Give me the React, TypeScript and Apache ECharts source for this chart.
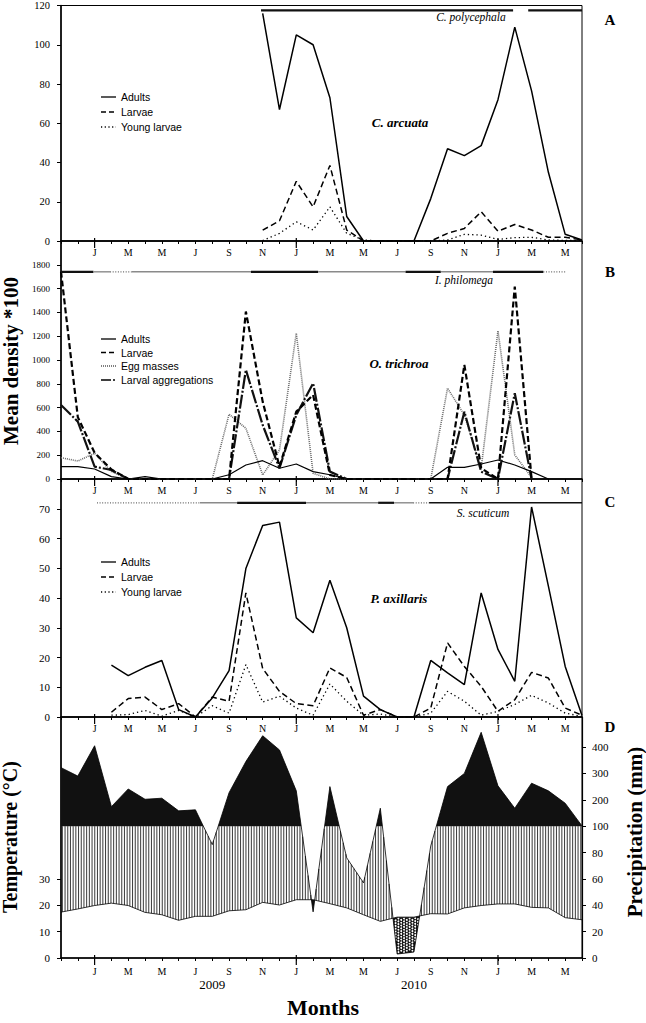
import React, { useEffect, useRef } from 'react';
import * as echarts from 'echarts';

const SERIF = '"Liberation Serif", "Times New Roman", serif';
const SANS = '"Liberation Sans", Arial, sans-serif';

// Month index 0 = November 2008 ... 31 = June 2011
const monthInitials = ['J', 'F', 'M', 'A', 'M', 'J', 'J', 'A', 'S', 'O', 'N', 'D'];
const startMonth = 10;
const monthCount = 31;
const januaries = [2, 14, 26];
const yearLabels = ['2009', '2010'];
const yearLabelAt = [9, 21];

// Panel A – C. arcuata
const aAdults = [null, null, null, null, null, null, null, null, null, null, null, null, 116, 67, 105, 100, 73, 12.5, 0, 0, 0, 0, 21.6, 47, 43.5, 48.6, 72, 109, 76.5, 35, 3.4, 0.5];
const aLarvae = [null, null, null, null, null, null, null, null, null, null, null, null, 5.5, 10.3, 30.4, 17.4, 38.5, 5.6, 0, 0, 0, 0, 0, 3.9, 6.4, 14.9, 5, 8.4, 5.6, 1.9, 1.9, 0.5];
const aYoung = [null, null, null, null, null, null, null, null, null, null, null, null, 0.2, 3.9, 9.8, 5.6, 17.4, 3.9, 0.5, 0, 0, 0, 0, 0.5, 3.4, 3, 0.8, 1.7, 1.9, 0.5, 0.3, 0.3];

// Panel B – O. trichroa
const bAdults = [104, 104, 84, 20, 0, 20, 0, 0, 0, 0, 36, 118, 154, 90, 126, 62, 36, 0, 0, 0, 0, 0, 0, 98, 98, 126, 160, 118, 62, 0, null, null];
const bLarvae = [1743, 520, 220, 80, 0, 0, 0, 0, 0, 0, 0, 1407, 650, 104, 566, 706, 34, 0, 0, 0, 0, 0, 0, 0, 959, 90, 0, 1617, 0, null, null, null];
const bEggMasses = [179, 151, 216, 62, 0, 0, 0, 0, 0, 0, 544, 426, 34, 244, 1225, 48, 0, 0, 0, 0, 0, 0, 0, 763, 538, 90, 1245, 202, 14, null, null, null];
const bAggregations = [622, 482, 104, 76, 0, 0, 0, 0, 0, 0, 0, 917, 454, 90, 538, 805, 62, 0, 0, 0, 0, 0, 0, 0, 566, 62, 0, 721, 0, null, null, null];

// Panel C – P. axillaris
const cAdults = [null, null, null, 17.4, 13.9, 16.7, 19, 2.5, 0, 6.4, 15.6, 49.9, 64.4, 65.5, 33.3, 28.3, 46, 30, 7, 2.5, 0, 0, 19, 14.8, 10.9, 41.7, 22.7, 12, 70.6, 44, 17, 0.5];
const cLarvae = [null, null, null, 1.6, 6.2, 6.7, 2.5, 4.5, 0, 6.7, 5.3, 41.7, 16.3, 8.6, 4.5, 3.8, 16.5, 13.3, 0.6, 2.5, 0, 0, 3, 24.9, 17, 10.3, 1.9, 5.8, 15, 13.1, 3, 0.6];
const cYoung = [null, null, null, 0.6, 0.8, 2.2, 0.3, 2.2, 0, 3.8, 1.3, 17.6, 5, 7, 3, 0.6, 11.1, 5.3, 0.6, 1, 0, 0, 1.3, 8.6, 5.3, 0.6, 1.9, 4.2, 7.3, 4.7, 1.3, 0.2];

// Panel D – climate
const temperature = [17.4, 18.6, 19.9, 20.8, 19.9, 17.3, 16.4, 14.3, 15.8, 15.8, 17.9, 18.3, 21.1, 20.1, 22.1, 22.1, 20.6, 19.0, 16.4, 13.9, 15.5, 15.5, 16.8, 16.7, 19.0, 19.9, 20.5, 20.5, 19.2, 19.0, 15.3, 14.5];
const precipitation = [322, 290, 405, 174, 241, 202, 206, 158, 162, 86, 227, 345, 443, 389, 234, 35, 250, 76, 57, 168, 3, 4.5, 85, 250, 300, 456, 253, 168, 263, 234, 187, 101];

// Host presence bars: [from, to, style]
const hostA = [[11.9, 26.9, 0], [27.8, 31, 0]];
const hostB = [[0, 1.93, 0], [1.93, 2.92, 1], [2.92, 4.2, 2], [4.2, 11.3, 1], [11.3, 15.3, 0], [15.3, 20.5, 1], [20.5, 22.6, 0], [22.6, 25.7, 1], [25.7, 28.7, 0], [28.7, 30.0, 2]];
const hostC = [[2.14, 8.27, 2], [8.27, 10.48, 1], [10.48, 14.58, 0], [14.58, 18.87, 1], [18.87, 19.82, 0], [19.82, 20.95, 1], [20.95, 21.9, 2], [21.9, 31, 3]];
const hostLevels = [117.5, 1741, 72];

const leftTicksD = [0, 10, 20, 30];
const rightTicksD = [0, 10, 20, 30, 40, 50, 60, 70, 80];

const precipToScale = (p: number) => (p <= 100 ? p / 2 : 50 + (p - 100) / 10);
const scaleToPrecip = (v: number) => (v <= 50 ? v * 2 : 100 + (v - 50) * 10);
const HUMID = 50;

const interp = (arr: number[], x: number) => {
  const i = Math.max(0, Math.min(Math.floor(x), arr.length - 2));
  const f = x - i;
  return arr[i] * (1 - f) + arr[i + 1] * f;
};

const GL = 61;
const GW = 521;
const grids = [
  { top: 4, height: 237 },
  { top: 241, height: 238 },
  { top: 479, height: 238 },
  { top: 717, height: 241 },
];

const barStyles: any[] = [
  { stroke: '#111', lineWidth: 2.2 },
  { stroke: '#8a8a8a', lineWidth: 1.4 },
  { stroke: '#666', lineWidth: 1.3, lineDash: [1, 1.6] },
  { stroke: '#111', lineWidth: 1.4 },
];

const toXY = (arr: (number | null)[]) =>
  arr.map((v, i) => (v == null ? null : [i, v])).filter((d) => d != null);

function lineSeries(data: (number | null)[], idx: number, style: any) {
  return {
    type: 'line',
    xAxisIndex: idx,
    yAxisIndex: idx,
    data: toXY(data),
    showSymbol: false,
    symbol: 'none',
    silent: true,
    z: 3,
    lineStyle: style,
  };
}

function hostSeries(data: number[][], idx: number) {
  const level = hostLevels[idx];
  return {
    type: 'custom',
    xAxisIndex: idx,
    yAxisIndex: idx,
    silent: true,
    z: 4,
    data,
    renderItem: (_p: any, api: any) => {
      const p1 = api.coord([api.value(0), level]);
      const p2 = api.coord([api.value(1), level]);
      const s = barStyles[api.value(2)];
      return {
        type: 'line',
        shape: { x1: p1[0], y1: p1[1], x2: p2[0], y2: p2[1] },
        style: { ...s, fill: 'none' },
      };
    },
  };
}

function janTickSeries(idx: number, yIdx: number) {
  return {
    type: 'custom',
    xAxisIndex: idx,
    yAxisIndex: yIdx,
    silent: true,
    z: 5,
    data: januaries.map((m) => [m, 0]),
    renderItem: (_p: any, api: any) => {
      const p = api.coord([api.value(0), 0]);
      return {
        type: 'line',
        shape: { x1: p[0], y1: p[1] - 3, x2: p[0], y2: p[1] + 7 },
        style: { stroke: '#000', lineWidth: 1.2 },
      };
    },
  };
}

function climateSeries() {
  return {
    type: 'custom',
    xAxisIndex: 3,
    yAxisIndex: 3,
    silent: true,
    z: 3,
    data: [[0, 0]],
    renderItem: (params: any, api: any) => {
      if (params.dataIndex !== 0) return null;
      const T = temperature;
      const U = precipitation.map(precipToScale);
      const last = T.length - 1;
      const xs: number[] = [];
      for (let i = 0; i <= last; i++) {
        xs.push(i);
        if (i < last) {
          const cr: number[] = [];
          const gs = [
            [U[i] - HUMID, U[i + 1] - HUMID],
            [U[i] - T[i], U[i + 1] - T[i + 1]],
          ];
          for (const [a, b] of gs) if (a * b < 0) cr.push(i + a / (a - b));
          cr.sort((p, q) => p - q);
          xs.push(...cr);
        }
      }
      const c = (x: number, y: number) => api.coord([x, y]);
      const children: any[] = [];
      const rev = xs.slice().reverse();
      const blackPts = xs.map((x) => c(x, Math.max(interp(U, x), HUMID))).concat(rev.map((x) => c(x, HUMID)));
      children.push({ type: 'polygon', shape: { points: blackPts }, style: { fill: '#111' } });

      const ppm = c(1, 0)[0] - c(0, 0)[0];
      const step = 2.7 / ppm;
      for (let x = step / 2; x < last; x += step) {
        const t = interp(T, x);
        const u = Math.min(interp(U, x), HUMID);
        if (u > t + 0.05) {
          const p = c(x, t);
          const q = c(x, u);
          children.push({
            type: 'line',
            shape: { x1: p[0], y1: p[1], x2: q[0], y2: q[1] },
            style: { stroke: '#222', lineWidth: 0.9 },
          });
        }
      }

      const aridPts = xs.map((x) => c(x, interp(T, x))).concat(rev.map((x) => c(x, Math.min(interp(U, x), interp(T, x)))));
      children.push({ type: 'polygon', shape: { points: aridPts }, style: { fill: '#111' } });
      const dstep = 2.8 / ppm;
      let col = 0;
      for (let x = dstep / 2; x < last; x += dstep, col++) {
        const t = interp(T, x);
        const u = interp(U, x);
        if (u < t - 0.3) {
          const top = c(x, t)[1];
          const bot = c(x, u)[1];
          const px = c(x, 0)[0];
          for (let y = top + 1.4 + (col % 2) * 1.4; y < bot - 0.8; y += 2.8) {
            children.push({ type: 'circle', shape: { cx: px, cy: y, r: 0.95 }, style: { fill: '#fff' } });
          }
        }
      }

      children.push({
        type: 'polyline',
        shape: { points: T.map((v, i) => c(i, v)) },
        style: { stroke: '#000', lineWidth: 0.8, fill: 'none' },
      });
      children.push({
        type: 'polyline',
        shape: { points: U.map((v, i) => c(i, v)) },
        style: { stroke: '#000', lineWidth: 0.8, fill: 'none' },
      });
      return { type: 'group', children };
    },
  };
}

function txt(text: string, x: number, y: number, o: any = {}) {
  return {
    type: 'text',
    x,
    y,
    rotation: o.rotation || 0,
    silent: true,
    style: {
      text,
      fill: '#000',
      fontFamily: o.family || SERIF,
      fontSize: o.size || 11,
      fontWeight: o.weight || 'normal',
      fontStyle: o.style || 'normal',
      textAlign: o.align || 'left',
      textVerticalAlign: 'middle',
      align: o.align || 'left',
      verticalAlign: 'middle',
    },
  };
}

function legendItems(x: number, ys: number[], labels: string[], styles: any[]) {
  const els: any[] = [];
  labels.forEach((l, i) => {
    els.push({
      type: 'line',
      silent: true,
      shape: { x1: x, y1: ys[i], x2: x + 15, y2: ys[i] },
      style: { stroke: '#000', lineWidth: 1.3, ...styles[i] },
    });
    els.push(txt(l, x + 20, ys[i], { family: SANS, size: 10.5 }));
  });
  return els;
}

export default function App() {
  const ref = useRef<HTMLDivElement>(null);
  useEffect(() => {
    if (!ref.current) return;
    const chart = echarts.init(ref.current, null, { renderer: 'svg' });

    const xAxis = grids.map((_, gi) => ({
      type: 'value',
      gridIndex: gi,
      min: 0,
      max: monthCount,
      interval: 1,
      splitLine: { show: false },
      axisLine: { onZero: false, lineStyle: { color: '#000', width: 1.5 } },
      axisTick: { length: 3, lineStyle: { color: '#000', width: 1 } },
      axisLabel: {
        margin: gi === 3 ? 8 : 6,
        fontFamily: SERIF,
        fontSize: 10,
        color: '#000',
        showMinLabel: true,
        showMaxLabel: true,
        formatter: (v: number) =>
          v > 0 && v < monthCount && Math.round(v) % 2 === 0 ? monthInitials[(startMonth + Math.round(v)) % 12] : '',
      },
    }));

    const yBase = (gi: number, min: number, max: number, interval: number, size: number, hideAbove: number) => ({
      type: 'value',
      gridIndex: gi,
      min,
      max,
      interval,
      splitLine: { show: false },
      axisLine: { onZero: false, lineStyle: { color: '#000', width: 1.5 } },
      axisTick: { length: 4, lineStyle: { color: '#000', width: 1 } },
      axisLabel: {
        margin: 11,
        fontFamily: SERIF,
        fontSize: size,
        color: '#000',
        formatter: (v: number) => (v > hideAbove + 0.01 ? '' : String(v)),
      },
    });

    const yAxis: any[] = [
      yBase(0, 0, 120, 20, 10.5, 120),
      yBase(1, 0, 2000, 200, 9, 1800),
      yBase(2, 0, 80, 10, 11, 70),
      {
        ...yBase(3, 0, 91.4, 10, 11, 30),
        axisTick: { length: 4, lineStyle: { color: '#000', width: 1 }, customValues: leftTicksD },
        axisLabel: {
          margin: 11,
          fontFamily: SERIF,
          fontSize: 11,
          color: '#000',
          customValues: leftTicksD,
          formatter: (v: number) => (v > 30.01 ? '' : String(v)),
        },
      },
      {
        type: 'value',
        gridIndex: 3,
        position: 'right',
        min: 0,
        max: 91.4,
        interval: 10,
        splitLine: { show: false },
        axisLine: { onZero: false, lineStyle: { color: '#000', width: 1.2 } },
        axisTick: { length: 4, lineStyle: { color: '#000', width: 1 }, customValues: rightTicksD },
        axisLabel: {
          margin: 10,
          fontFamily: SERIF,
          fontSize: 11,
          color: '#000',
          customValues: rightTicksD,
          formatter: (v: number) => (v > 80.5 ? '' : String(Math.round(scaleToPrecip(v)))),
        },
      },
    ];

    const solid = { color: '#000', width: 1.5, type: 'solid' };
    const dashed = { color: '#000', width: 1.5, type: [6, 3.5] };
    const dotted = { color: '#000', width: 1.3, type: [1.3, 3], cap: 'butt' };

    const series: any[] = [
      lineSeries(aAdults, 0, solid),
      lineSeries(aLarvae, 0, dashed),
      lineSeries(aYoung, 0, dotted),
      lineSeries(bEggMasses, 1, { color: '#6a6a6a', width: 1.6, type: [1, 1] }),
      lineSeries(bAdults, 1, { color: '#000', width: 1.2, type: 'solid' }),
      lineSeries(bAggregations, 1, { color: '#111', width: 2.2, type: [14, 2, 2, 2] }),
      lineSeries(bLarvae, 1, { color: '#000', width: 2.2, type: [6, 3] }),
      lineSeries(cAdults, 2, solid),
      lineSeries(cLarvae, 2, dashed),
      lineSeries(cYoung, 2, dotted),
      climateSeries(),
      hostSeries(hostA, 0),
      hostSeries(hostB, 1),
      hostSeries(hostC, 2),
      janTickSeries(0, 0),
      janTickSeries(1, 1),
      janTickSeries(2, 2),
      janTickSeries(3, 3),
    ];

    const pxPerMonth = GW / monthCount;
    const graphics: any[] = [
      txt('Mean density *100', 11, 361, { size: 21, weight: 'bold', align: 'center', rotation: Math.PI / 2 }),
      txt('Temperature (°C)', 10, 837, { size: 20, weight: 'bold', align: 'center', rotation: Math.PI / 2 }),
      txt('Precipitation (mm)', 635, 832, { size: 21, weight: 'bold', align: 'center', rotation: Math.PI / 2 }),
      txt('Months', 323, 1007, { size: 22, weight: 'bold', align: 'center' }),
      ...yearLabels.map((t, i) => txt(t, GL + yearLabelAt[i] * pxPerMonth, 984, { size: 13, align: 'center' })),
      txt('A', 610, 20, { size: 15, weight: 'bold', align: 'center' }),
      txt('B', 610, 272, { size: 15, weight: 'bold', align: 'center' }),
      txt('C', 610, 502, { size: 15, weight: 'bold', align: 'center' }),
      txt('D', 610, 727, { size: 15, weight: 'bold', align: 'center' }),
      txt('C. arcuata', 400, 122, { size: 13, weight: 'bold', style: 'italic', align: 'center' }),
      txt('O. trichroa', 399, 363, { size: 13, weight: 'bold', style: 'italic', align: 'center' }),
      txt('P. axillaris', 399, 598, { size: 13, weight: 'bold', style: 'italic', align: 'center' }),
      txt('C. polycephala', 471, 17, { size: 11.5, style: 'italic', align: 'center' }),
      txt('I. philomega', 464, 280, { size: 11.5, style: 'italic', align: 'center' }),
      txt('S. scuticum', 483, 513, { size: 11.5, style: 'italic', align: 'center' }),
      ...legendItems(101, [97, 112, 127], ['Adults', 'Larvae', 'Young larvae'], [
        { lineDash: null },
        { lineDash: [5, 3] },
        { lineDash: [1.2, 2.5] },
      ]),
      ...legendItems(101, [339, 352.5, 366, 380], ['Adults', 'Larvae', 'Egg masses', 'Larval aggregations'], [
        { lineDash: null },
        { lineDash: [5, 3] },
        { lineDash: [1, 1], stroke: '#555' },
        { lineDash: [10, 2, 2, 2] },
      ]),
      ...legendItems(101, [562, 577, 592], ['Adults', 'Larvae', 'Young larvae'], [
        { lineDash: null },
        { lineDash: [5, 3] },
        { lineDash: [1.2, 2.5] },
      ]),
    ];

    chart.setOption({
      animation: false,
      backgroundColor: '#fff',
      textStyle: { fontFamily: SERIF },
      grid: grids.map((g) => ({
        left: GL,
        width: GW,
        top: g.top,
        height: g.height,
        show: true,
        borderColor: '#000',
        borderWidth: 1,
        backgroundColor: 'transparent',
        containLabel: false,
      })),
      xAxis,
      yAxis,
      series,
      graphic: { elements: graphics },
    });
    return () => chart.dispose();
  }, []);
  return <div ref={ref} style={{ position: 'absolute', left: 0, top: 0, width: 646, height: 1023 }} />;
}
